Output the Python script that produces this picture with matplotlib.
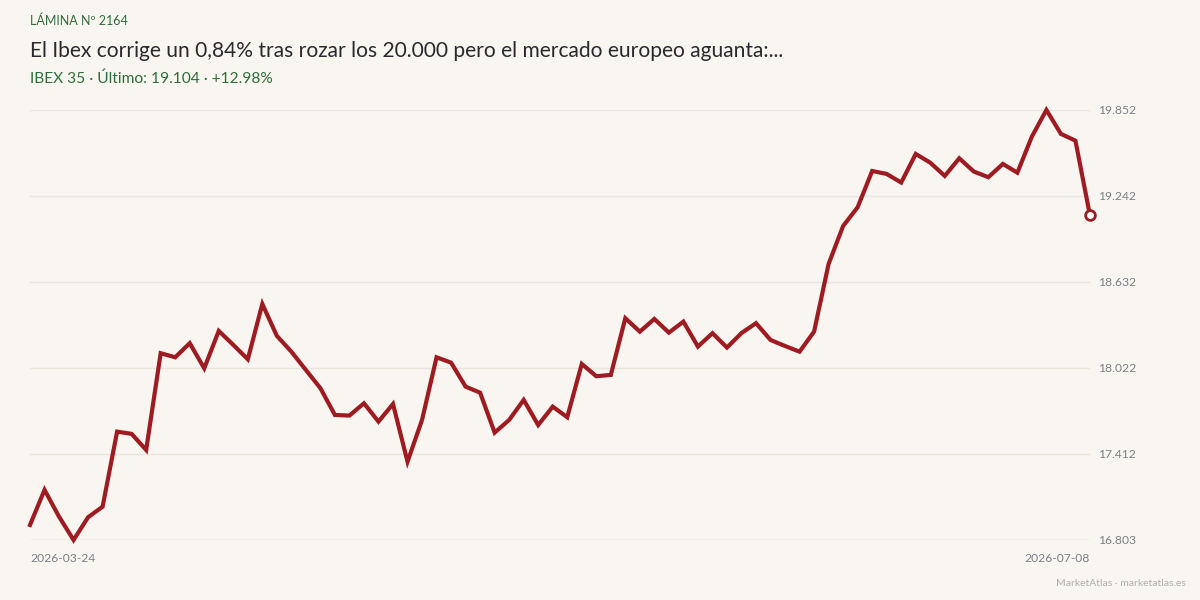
import matplotlib.pyplot as plt
import numpy as np

# datos (cierres IBEX 35)
precios = [16909, 17158, 16968, 16802.6, 16964, 17039, 17571, 17555, 17441, 18127,
           18098, 18198, 18020, 18285, 18186, 18084, 18476, 18250, 18138, 18008,
           17879, 17689, 17685, 17772, 17642, 17767, 17358, 17654, 18098, 18060,
           17890, 17847, 17564, 17654, 17796, 17618, 17748, 17673, 18051, 17964,
           17973, 18375, 18280, 18370, 18273, 18351, 18174, 18269, 18167, 18270,
           18340, 18221, 18178, 18138, 18280, 18760, 19029, 19162, 19419, 19398,
           19337, 19540, 19478, 19384, 19509, 19415, 19375, 19469, 19407, 19663,
           19851.6, 19682, 19634, 19104]
fecha_ini = "2026-03-24"
fecha_fin = "2026-07-08"
etiqueta = "LÁMINA Nº 2164"
titulo = "El Ibex corrige un 0,84% tras rozar los 20.000 pero el mercado europeo aguanta:..."
subtitulo = "IBEX 35 · Último: 19.104 · +12.98%"
pie = "MarketAtlas · marketatlas.es"

fondo = "#f9f6f1"
rojo = "#9e1c21"
verde = "#2f6e3b"
gris = "#7b7f88"

plt.rcParams['font.family'] = ['Lato', 'DejaVu Sans']

fig = plt.figure(figsize=(12, 6), dpi=100, facecolor=fondo)
ax = fig.add_axes([0.025, 0.1, 0.8833, 0.7167])
ax.set_facecolor(fondo)

x = np.arange(len(precios))
ymin, ymax = min(precios), max(precios)
ticks = np.linspace(ymin, ymax, 6)

# rejilla horizontal, la base un poco más marcada
for i, t in enumerate(ticks):
    col = "#d9d3c8" if i == 0 else "#e9e4dc"
    ax.axhline(t, color=col, lw=1, zorder=1)

ax.plot(x, precios, color=rojo, lw=3, solid_joinstyle='miter', clip_on=False, zorder=3)
ax.plot(x[-1], precios[-1], 'o', ms=7, mfc='white', mec=rojo, mew=2, clip_on=False, zorder=4)

ax.set_xlim(0, len(precios) - 1)
ax.set_ylim(ymin, ymax)
for s in ax.spines.values():
    s.set_visible(False)
ax.set_xticks([])
ax.yaxis.tick_right()
ax.set_yticks(ticks)
ax.set_yticklabels([f"{t / 1000:.3f}" for t in ticks])
ax.tick_params(axis='y', length=0, pad=6, labelsize=8.7, labelcolor=gris)

ax.text(0, -0.03, fecha_ini, transform=ax.transAxes, ha='left', va='top', fontsize=8.7, color=gris)
ax.text(1, -0.03, fecha_fin, transform=ax.transAxes, ha='right', va='top', fontsize=8.7, color=gris)

fig.text(0.025, 0.966, etiqueta, ha='left', va='center', fontsize=9, color=verde)
fig.text(0.025, 0.915, titulo, ha='left', va='center', fontsize=15.1, color="#2a2a2e")
fig.text(0.025, 0.869, subtitulo, ha='left', va='center', fontsize=11.2, color=verde)
fig.text(0.988, 0.028, pie, ha='right', va='center', fontsize=7.5, color="#b3aea6")

fig.savefig("out.png", dpi=100, facecolor=fondo)
